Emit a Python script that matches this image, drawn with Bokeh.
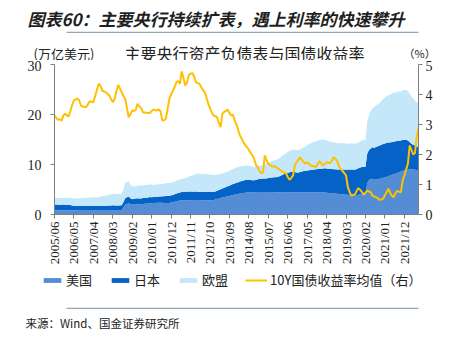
import math
from bokeh.plotting import figure
from bokeh.layouts import column
from bokeh.models import (Range1d, LinearAxis, Legend, LegendItem, FixedTicker,
                          ColumnDataSource)
from bokeh.core.properties import value
from bokeh.embed import file_html
from bokeh.resources import INLINE

# ---------------- data (monthly, 2005/06 - 2022/08) ----------------
tick_labels = ["2005/06", "2006/05", "2007/04", "2008/03", "2009/02", "2010/01",
               "2010/12", "2011/11", "2012/10", "2013/09", "2014/08", "2015/07",
               "2016/06", "2017/05", "2018/04", "2019/03", "2020/02", "2021/01",
               "2021/12"]

# 美国 (万亿美元)
us = [0.84, 0.84, 0.85, 0.85, 0.85, 0.86, 0.86,
      0.86, 0.86, 0.87, 0.87, 0.87, 0.87, 0.87, 0.88, 0.88, 0.88, 0.88, 0.89,
      0.89, 0.89, 0.89, 0.89, 0.89, 0.89, 0.89, 0.89, 0.89, 0.89, 0.89, 0.89,
      0.89, 0.89, 0.89, 0.89, 0.89, 0.89, 0.89, 0.90, 1.40, 1.95, 2.10, 2.24,
      2.05, 1.95, 2.05, 2.10, 2.15, 2.05, 2.05, 2.10, 2.15, 2.17, 2.20, 2.24,
      2.25, 2.28, 2.32, 2.33, 2.33, 2.33, 2.33, 2.32, 2.30, 2.30, 2.30, 2.42,
      2.45, 2.55, 2.62, 2.70, 2.78, 2.86, 2.87, 2.87, 2.85, 2.86, 2.86, 2.85,
      2.90, 2.90, 2.88, 2.87, 2.85, 2.86, 2.85, 2.82, 2.82, 2.84, 2.85, 2.90,
      3.00, 3.10, 3.19, 3.30, 3.40, 3.48, 3.56, 3.63, 3.70, 3.80, 3.88, 3.96,
      4.03, 4.10, 4.20, 4.25, 4.30, 4.35, 4.40, 4.42, 4.44, 4.46, 4.48, 4.48,
      4.49, 4.48, 4.48, 4.48, 4.48, 4.47, 4.48, 4.48, 4.48, 4.48, 4.47, 4.47,
      4.47, 4.47, 4.48, 4.48, 4.47, 4.47, 4.47, 4.46, 4.46, 4.46, 4.45, 4.45,
      4.45, 4.46, 4.47, 4.47, 4.47, 4.47, 4.46, 4.46, 4.45, 4.45, 4.45, 4.44,
      4.42, 4.39, 4.38, 4.35, 4.31, 4.28, 4.25, 4.22, 4.18, 4.14, 4.10, 4.06,
      4.05, 4.00, 3.96, 3.94, 3.90, 3.86, 3.80, 3.76, 3.85, 3.95, 4.05, 4.15,
      4.16, 4.16, 6.30, 6.90, 7.10, 7.15, 6.97, 7.00, 7.05, 7.15, 7.25, 7.35,
      7.40, 7.55, 7.70, 7.80, 7.95, 8.05, 8.20, 8.30, 8.45, 8.60, 8.75, 8.85,
      8.95, 8.98, 8.98, 8.98, 8.98, 8.95, 8.92, 8.90]

# 日本 (万亿美元)
jp = [1.15, 1.14, 1.12, 1.12, 1.10, 1.12, 1.10,
      1.10, 1.08, 1.05, 0.95, 0.88, 0.85, 0.85, 0.85, 0.84, 0.84, 0.84, 0.85,
      0.84, 0.84, 0.85, 0.84, 0.83, 0.83, 0.83, 0.85, 0.86, 0.86, 0.88, 0.88,
      0.90, 0.92, 0.95, 0.93, 0.92, 0.90, 0.92, 0.95, 1.05, 1.30, 1.35, 1.35,
      1.20, 1.12, 1.10, 1.12, 1.12, 1.14, 1.15, 1.18, 1.18, 1.18, 1.20, 1.25,
      1.20, 1.20, 1.18, 1.20, 1.25, 1.28, 1.32, 1.35, 1.40, 1.40, 1.42, 1.45,
      1.45, 1.50, 1.60, 1.60, 1.60, 1.65, 1.70, 1.70, 1.70, 1.72, 1.72, 1.72,
      1.70, 1.68, 1.65, 1.65, 1.68, 1.65, 1.68, 1.70, 1.70, 1.68, 1.66, 1.62,
      1.60, 1.65, 1.72, 1.75, 1.80, 1.85, 1.95, 2.00, 2.05, 2.15, 2.20, 2.25,
      2.30, 2.35, 2.40, 2.45, 2.50, 2.55, 2.55, 2.55, 2.45, 2.40, 2.35, 2.40,
      2.55, 2.60, 2.65, 2.70, 2.70, 2.75, 2.80, 2.85, 2.90, 2.95, 3.00, 3.05,
      3.15, 3.30, 3.45, 3.60, 3.70, 3.85, 4.00, 4.10, 4.15, 4.05, 3.95, 3.95,
      4.05, 4.15, 4.25, 4.30, 4.35, 4.40, 4.45, 4.50, 4.55, 4.60, 4.65, 4.70,
      4.75, 4.80, 4.85, 4.85, 4.85, 4.85, 4.85, 4.85, 4.85, 4.85, 4.90, 4.90,
      4.95, 5.00, 5.00, 5.05, 5.10, 5.15, 5.20, 5.20, 5.25, 5.30, 5.35, 5.35,
      5.35, 5.40, 5.90, 6.00, 6.10, 6.30, 6.40, 6.50, 6.60, 6.65, 6.70, 6.75,
      6.80, 6.80, 6.70, 6.60, 6.55, 6.50, 6.45, 6.40, 6.30, 6.20, 6.15, 6.10,
      6.00, 5.80, 5.50, 5.15, 4.95, 4.85, 4.70, 4.65]

# 欧盟 (万亿美元)
eu = [1.30, 1.30, 1.32, 1.33, 1.33, 1.35, 1.38,
      1.40, 1.40, 1.42, 1.45, 1.48, 1.50, 1.52, 1.55, 1.55, 1.57, 1.58, 1.62,
      1.63, 1.65, 1.68, 1.70, 1.72, 1.72, 1.75, 1.85, 1.90, 1.95, 2.05, 2.15,
      2.20, 2.20, 2.30, 2.35, 2.35, 2.30, 2.25, 2.25, 2.60, 3.10, 3.00, 3.00,
      2.70, 2.55, 2.50, 2.45, 2.45, 2.60, 2.65, 2.50, 2.50, 2.55, 2.55, 2.55,
      2.50, 2.45, 2.45, 2.40, 2.45, 2.50, 2.45, 2.50, 2.55, 2.60, 2.60, 2.55,
      2.55, 2.55, 2.55, 2.60, 2.60, 2.60, 2.60, 2.70, 2.85, 3.00, 3.10, 3.25,
      3.40, 3.55, 3.65, 3.65, 3.60, 3.55, 3.60, 3.60, 3.55, 3.50, 3.45, 3.40,
      3.35, 3.20, 3.15, 3.05, 3.05, 3.00, 2.95, 2.95, 3.00, 3.00, 2.95, 3.05,
      3.05, 3.00, 3.00, 3.00, 2.95, 2.90, 2.85, 2.80, 2.80, 2.75, 2.75, 2.70,
      2.65, 2.60, 2.60, 2.70, 2.85, 2.95, 3.05, 3.15, 3.25, 3.35, 3.45, 3.50,
      3.60, 3.75, 3.85, 3.95, 4.10, 4.20, 4.30, 4.35, 4.40, 4.45, 4.45, 4.50,
      4.50, 4.60, 4.75, 4.90, 5.05, 5.25, 5.35, 5.45, 5.55, 5.60, 5.65, 5.75,
      5.80, 5.80, 5.70, 5.60, 5.50, 5.45, 5.40, 5.35, 5.35, 5.30, 5.25, 5.30,
      5.30, 5.25, 5.20, 5.15, 5.20, 5.25, 5.20, 5.20, 5.15, 5.15, 5.20, 5.35,
      5.35, 5.40, 6.40, 7.00, 7.50, 7.90, 8.10, 8.30, 8.40, 8.50, 8.70, 9.00,
      9.20, 9.35, 9.45, 9.55, 9.70, 9.80, 9.80, 9.85, 9.85, 9.80, 9.90, 10.00,
      9.95, 9.85, 9.75, 9.50, 9.30, 9.00, 8.80, 8.70]

# 10Y国债收益率均值 (%)
yld = [3.30, 3.22, 3.16, 3.18, 3.12, 3.30, 3.36,
       3.30, 3.27, 3.45, 3.65, 3.80, 3.84, 3.86, 3.80, 3.63, 3.60, 3.58, 3.58,
       3.68, 3.78, 3.76, 3.74, 3.95, 4.15, 4.36, 4.30, 4.13, 4.10, 4.08, 4.02,
       3.97, 3.85, 3.74, 3.85, 4.10, 4.32, 4.20, 4.08, 3.95, 3.86, 3.55, 3.24,
       3.35, 3.47, 3.45, 3.49, 3.69, 3.60, 3.55, 3.41, 3.40, 3.39, 3.38, 3.39,
       3.45, 3.50, 3.48, 3.47, 3.50, 3.44, 3.13, 3.14, 3.19, 3.50, 3.86, 4.00,
       4.13, 4.25, 4.41, 4.45, 4.36, 4.77, 4.55, 4.30, 4.40, 4.65, 4.69, 4.72,
       4.60, 4.41, 4.38, 4.36, 4.25, 4.15, 4.08, 3.90, 3.69, 3.55, 3.40, 3.30,
       3.28, 3.24, 3.05, 2.91, 3.36, 3.42, 3.45, 3.50, 3.38, 3.30, 3.32, 3.13,
       3.00, 2.80, 2.63, 2.52, 2.40, 2.30, 2.24, 2.15, 2.05, 1.97, 1.85, 1.65,
       1.58, 1.45, 1.38, 1.40, 1.97, 1.80, 1.69, 1.65, 1.60, 1.60, 1.60, 1.55,
       1.52, 1.47, 1.43, 1.40, 1.38, 1.25, 1.16, 1.22, 1.30, 1.63, 1.75, 1.82,
       1.91, 1.82, 1.75, 1.69, 1.74, 1.70, 1.63, 1.62, 1.60, 1.58, 1.68, 1.78,
       1.70, 1.63, 1.68, 1.74, 1.72, 1.72, 1.80, 1.91, 1.85, 1.78, 1.60, 1.52,
       1.45, 1.38, 1.30, 0.91, 0.75, 0.63, 0.65, 0.67, 0.78, 0.88, 0.82, 0.75,
       0.66, 0.73, 0.80, 0.76, 0.74, 0.62, 0.60, 0.58, 0.54, 0.49, 0.50, 0.53,
       0.65, 0.74, 0.86, 0.72, 0.62, 0.58, 0.72, 0.79, 0.76, 0.74, 1.13, 1.30,
       1.50, 1.69, 2.30, 2.15, 2.00, 2.05, 2.58, 2.89]

legend_labels = ["美国", "日本", "欧盟", "10Y国债收益率均值（右）"]

assert len(us) == len(jp) == len(eu) == len(yld)
n = len(us)
months = ["%d/%02d" % (2005 + (5 + i) // 12, (5 + i) % 12 + 1) for i in range(n)]
x = list(range(n))
tick_pos = [months.index(t) for t in tick_labels]

C_US, C_JP, C_EU, C_Y = "#548DD4", "#0563C8", "#C5E7FA", "#FFC000"
C_RULE = "#93a9b8"
CJK = "Noto Sans CJK SC"
SERIF = "Liberation Serif"
W = 462
H_HEAD, H_MAIN, H_FOOT = 60, 210, 67
Y0_FOOT = H_HEAD + H_MAIN


def blank(height):
    # pixel-like coordinates: x from the left, y from the bottom of this strip
    f = figure(width=W, height=height, output_backend="svg", toolbar_location=None,
               x_range=Range1d(0, W), y_range=Range1d(0, height),
               x_axis_type=None, y_axis_type=None, frame_align=False,
               min_border=0, min_border_left=0, min_border_right=0,
               min_border_top=0, min_border_bottom=0)
    f.outline_line_color = None
    f.grid.visible = False
    return f


def txt(f, s, cx, cy, size, align="left", style="normal", color="#222222"):
    # cy: distance from the top of the strip
    f.text(x=[cx], y=[f.height - cy], text=[s], text_font=value(CJK),
           text_font_size=size, text_align=align, text_baseline="middle",
           text_font_style=style, text_color=color)


def rule(f, cy):
    # separator rule drawn as a wide, flat legend swatch (x 22 → right edge)
    proxy = f.varea(x=[-20, -10], y1=[-5, -5], y2=[-4, -4], fill_color=C_RULE)
    f.add_layout(Legend(items=[LegendItem(label="", renderers=[proxy])],
                        location=(22, f.height - cy - 1), orientation="horizontal",
                        glyph_width=W - 22, glyph_height=2, label_width=0,
                        label_height=1, label_standoff=0, label_text_font_size="1px",
                        padding=0, margin=0, spacing=0, border_line_color=None,
                        background_fill_alpha=0), "center")


# ---------------- header ----------------
head = blank(H_HEAD)
txt(head, "图表60：主要央行持续扩表，遇上利率的快速攀升", 27, 18, "17px",
    style="bold italic", color="#1f1f1f")
rule(head, 31.5)
txt(head, "(万亿美元)", 33, 52.5, "13px")
txt(head, "主要央行资产负债表与国债收益率", 244, 52, "16px", align="center")
txt(head, "（%）", 403, 52.5, "11px")

# ---------------- main chart ----------------
src = ColumnDataSource(dict(x=x, us=us, jp=jp, eu=eu, yld=yld))

p = figure(width=W, height=H_MAIN, output_backend="svg", toolbar_location=None,
           x_range=Range1d(0, n - 1), y_range=Range1d(0, 30), frame_align=False,
           min_border_left=54, min_border_right=44, min_border_top=4,
           min_border_bottom=56)
p.outline_line_color = None
p.xgrid.visible = False
p.ygrid.visible = False
p.extra_y_ranges = {"r": Range1d(0, 5)}

areas = p.varea_stack(stackers=["us", "jp", "eu"], x="x",
                      color=[C_US, C_JP, C_EU], source=src)
ln = p.line("x", "yld", source=src, y_range_name="r", color=C_Y, line_width=2)

right = LinearAxis(y_range_name="r")
p.add_layout(right, "right")

for ax in (p.xaxis[0], p.yaxis[0], right):
    ax.axis_line_color = "#7f7f7f"
    ax.major_tick_line_color = "#7f7f7f"
    ax.minor_tick_line_color = None
    ax.major_tick_out = 4
    ax.major_tick_in = 0
    ax.major_label_text_font = SERIF
    ax.major_label_text_font_size = "14px"
    ax.major_label_text_color = "#222222"

p.yaxis[0].ticker = FixedTicker(ticks=[0, 10, 20, 30])
p.yaxis[0].major_label_standoff = 9
right.ticker = FixedTicker(ticks=[0, 1, 2, 3, 4, 5])
right.major_label_standoff = 3

xa = p.xaxis[0]
xa.ticker = FixedTicker(ticks=tick_pos)
xa.major_label_overrides = {tp: lab for tp, lab in zip(tick_pos, tick_labels)}
xa.major_label_orientation = math.pi / 2
xa.major_label_text_font_size = "13px"
xa.major_label_standoff = 3

# ---------------- footer: legend, rule, source ----------------
foot = blank(H_FOOT)
# legend swatch proxies: placed outside the visible range, only used by the legend
pr_us = foot.varea(x=[-20, -10], y1=[0, 0], y2=[1, 1], fill_color=C_US)
pr_jp = foot.varea(x=[-20, -10], y1=[0, 0], y2=[1, 1], fill_color=C_JP)
pr_eu = foot.varea(x=[-20, -10], y1=[0, 0], y2=[1, 1], fill_color=C_EU)
pr_y = foot.line(x=[-20, -10], y=[0, 0], line_color=C_Y, line_width=2)
legend = Legend(items=[LegendItem(label=lbl, renderers=[r]) for lbl, r in
                       zip(legend_labels, [pr_us, pr_jp, pr_eu, pr_y])],
                orientation="horizontal", location=(41, 48),
                label_text_font=CJK, label_text_font_size="13px",
                label_text_color="#222222",
                glyph_width=22, glyph_height=6, label_standoff=3, spacing=17,
                padding=0, margin=0, border_line_color=None,
                background_fill_alpha=0)
foot.add_layout(legend, "center")
rule(foot, 308 - Y0_FOOT)
txt(foot, "来源：Wind、国金证券研究所", 25, 322 - Y0_FOOT, "11.5px")

layout = column(head, p, foot, spacing=0)
open("out.html", "w").write(file_html(layout, INLINE))
